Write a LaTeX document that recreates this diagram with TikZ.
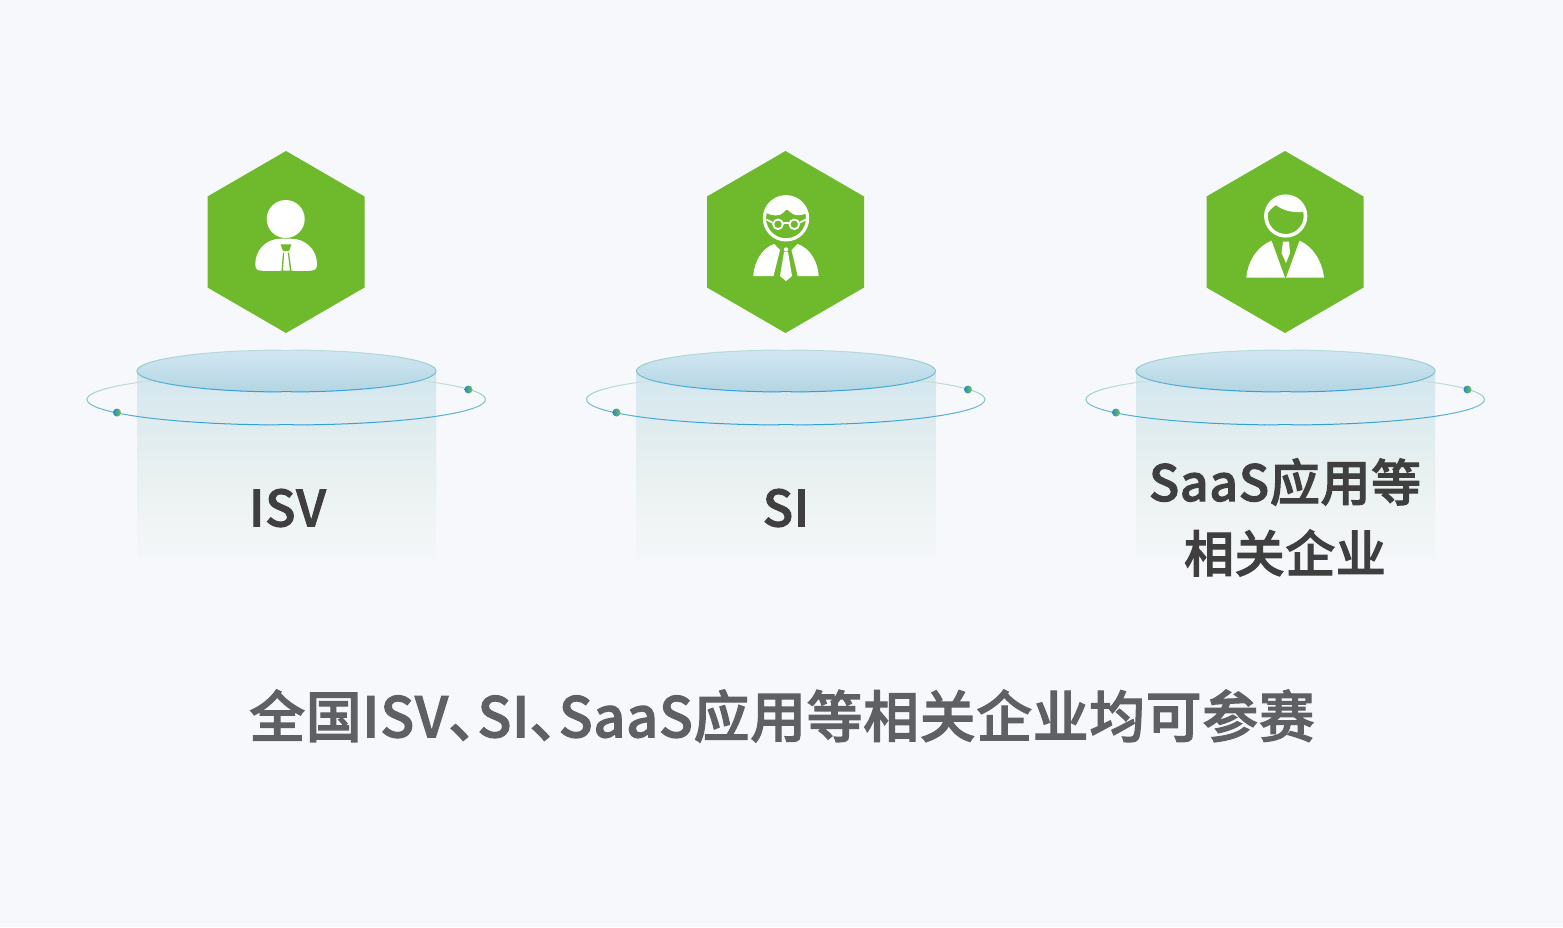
\documentclass[tikz,border=0pt]{standalone}
\usepackage{fontspec}
\setmainfont{Noto Sans CJK SC}[RawFeature=+palt,BoldFont={Noto Sans CJK SC Medium},BoldFeatures={FakeBold=2,LetterSpace=1.3}]
\definecolor{bgc}{HTML}{F6F8FC}
\definecolor{hexg}{HTML}{6FB92C}
\definecolor{lab}{HTML}{3F3F40}
\definecolor{ttl}{HTML}{5F6063}
\definecolor{rblue}{HTML}{2FA0D6}
\definecolor{rteal}{HTML}{8FC8C8}
\definecolor{rfaintA}{HTML}{B9DCDC}
\definecolor{rfaintB}{HTML}{DDEBE2}
\definecolor{doty}{HTML}{7DC04C}
\definecolor{dotb}{HTML}{1F8CC8}
\definecolor{capt}{HTML}{CFE6F2}
\definecolor{capb}{HTML}{B3D5E3}
\definecolor{cylA}{HTML}{F3F6F8}
\definecolor{cylB}{HTML}{F0F4F4}
\definecolor{cylC}{HTML}{E9F0F0}
\definecolor{cylD}{HTML}{D9E9EF}
\definecolor{cylE}{HTML}{D2E6EF}
\pgfdeclareverticalshading{cylfade}{100bp}{
  color(0bp)=(bgc);
  color(25bp)=(bgc);
  color(27bp)=(cylA);
  color(36bp)=(cylB);
  color(49bp)=(cylC);
  color(67.5bp)=(cylD);
  color(75bp)=(cylE);
  color(100bp)=(cylE)}
\tikzset{
  x=1pt,y=-1pt,
  label/.style={font=\bfseries\fontsize{50}{60}\selectfont,text=lab,inner sep=0pt},
  toptitle/.style={font=\bfseries\fontsize{55.8}{60}\selectfont,text=ttl,inner sep=0pt},
  wht/.style={fill=white,draw=none},
  grn/.style={fill=hexg,draw=none},
}
% ring(cx,cy,rx,ry,colour of the far side)
\newcommand{\gradring}[5]{%
  \foreach \a in {0,4,...,356}{%
    \pgfmathsetmacro{\s}{sin(\a+2)}%
    \pgfmathsetmacro{\p}{100*abs(\s)}%
    \pgfmathparse{\s>0?1:0}%
    \ifnum\pgfmathresult=1 \colorlet{cc}{rblue!\p!rteal}\else\colorlet{cc}{#5!\p!rteal}\fi
    \draw[cc,line width=1pt,line cap=round]
      ({#1+#3*cos(\a)},{#2+#4*sin(\a)}) -- ({#1+#3*cos(\a+4)},{#2+#4*sin(\a+4)});%
  }%
}
\newcommand{\drum}[1]{%
  \shade[shading=cylfade] (#1-149.5,372) rectangle (#1+149.5,562);
  \gradring{#1-.3}{399.5}{199.2}{25.5}{rfaintB}
  \shade[top color=capt,bottom color=capb,opacity=.95] (#1,371) ellipse [x radius=149.5pt,y radius=21pt];
  \gradring{#1}{371}{149.5}{21}{rfaintA}
  \shade[left color=dotb,right color=doty] (#1-169.5,412.5) circle (4pt);
  \shade[left color=dotb,right color=doty] (#1+182,389.5) circle (4pt);
  \fill[hexg] (#1-.5,151) -- (#1+78,196.5) -- (#1+78,287.5) -- (#1-.5,333) -- (#1-79,287.5) -- (#1-79,196.5) -- cycle;
}
\begin{document}
\begin{tikzpicture}
\fill[bgc] (0,0) rectangle (1563,927);
\useasboundingbox (0,0) rectangle (1563,927);
\drum{286.5}
\drum{786}
\drum{1285.5}

% icon 1
\fill[wht] (285.7,219) circle (19pt);
\fill[wht] (262,270.7) .. controls (257,270.7) and (255.3,269) .. (255.3,264)
  .. controls (255.3,250) and (266,238.7) .. (281,238.7) -- (291,238.7)
  .. controls (306,238.7) and (317,250) .. (317,264)
  .. controls (317,269) and (315,270.7) .. (310,270.7)
  .. controls (303,271.2) and (298,271) .. (291.5,270.7) -- (281.5,270.7)
  .. controls (274,271) and (268,271.2) .. (262,270.7) -- cycle;
\fill[grn] (280.5,244.3) -- (291.5,244.3) -- (289,251) -- (283,251) -- cycle;
\fill[grn] (283,252.5) -- (284.2,252.5) -- (283,271) -- (281.5,271) -- cycle;
\fill[grn] (287.8,252.5) -- (289,252.5) -- (291.5,271) -- (290,271) -- cycle;

% icon 2
\draw[white,line width=3.2pt] (786,218.3) circle (21.6pt);
\fill[wht] (766.5,213) .. controls (772,216) and (780,217) .. (784,212)
  .. controls (786,209) and (788,209) .. (790,212)
  .. controls (794,216) and (800,216) .. (806,213.5)
  .. controls (803,203) and (795,197) .. (786,197)
  .. controls (777,197) and (769,203) .. (766.5,213) -- cycle;
\draw[white,line width=1.8pt] (778,224.3) circle (4.8pt) (794.3,224.3) circle (4.8pt);
\draw[white,line width=1.6pt] (782.6,223) -- (789.6,223) (773,223) -- (766.5,219.5) (799,223) -- (806,219.5);
\fill[wht] (753.3,276) .. controls (754,262) and (762,248) .. (774,244) -- (780,250) -- (773.5,276) -- cycle;
\fill[wht] (818.7,276) .. controls (818,262) and (810,248) .. (797.5,244) -- (791.5,250) -- (797.7,276) -- cycle;
\fill[wht] (784,252) -- (788,252) -- (792,276) -- (786,281) -- (780,276) -- cycle;
\fill[wht] (786,249.5) circle (2.2pt);

% icon 3
\draw[white,line width=3.6pt] (1285.7,216) circle (19.8pt);
\fill[wht] (1267,215) .. controls (1269,210) and (1272,208) .. (1276,205)
  .. controls (1283,211) and (1294,213) .. (1305,212)
  .. controls (1303,201) and (1295,196) .. (1285.7,196)
  .. controls (1275,196) and (1266,204) .. (1267,215) -- cycle;
\fill[wht] (1246.3,277.7) .. controls (1248,260) and (1258,246) .. (1271.5,240.7) -- (1285,277.7) -- cycle;
\fill[wht] (1324,277.7) .. controls (1322,260) and (1312,246) .. (1299.5,240.7) -- (1286,277.7) -- cycle;
\fill[wht] (1283,241.5) -- (1289,241.5) -- (1290,253) -- (1286,263) -- (1281.5,253) -- cycle;

\node[label] (isv) at (287.5,508) {ISV};
\node[label] (si) at (786,508) {SI};
\node[label] (saas) at (1285,482) {SaaS应用等};
\node[label] (rel) at (1285,553) {相关企业};
\node[toptitle] (title) at (782,716) {全国ISV、SI、SaaS应用等相关企业均可参赛};
\end{tikzpicture}
\end{document}
